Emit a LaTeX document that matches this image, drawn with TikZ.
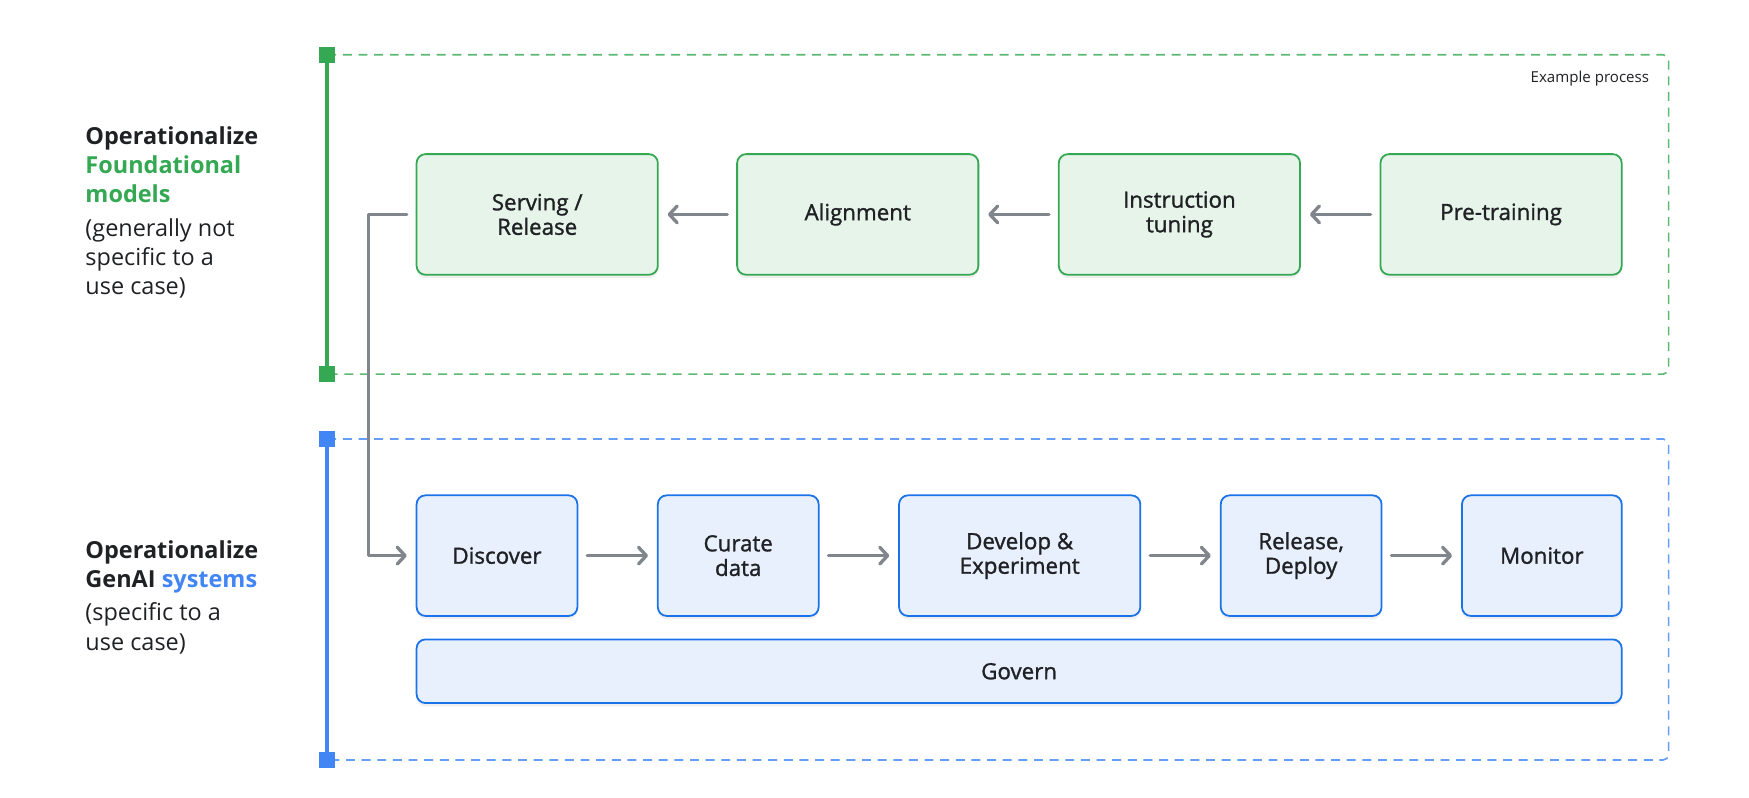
\documentclass[tikz,border=0pt]{standalone}
\usepackage{fontspec}
\setmainfont{Open Sans}
\newfontfamily\stagefont{Open Sans}[FakeBold=1.3]
\usetikzlibrary{arrows.meta,shadows}
\definecolor{ink}{HTML}{202124}
\definecolor{gbar}{HTML}{34A853}
\definecolor{gdash}{HTML}{5BB974}
\definecolor{gfill}{HTML}{E6F4EA}
\definecolor{bbar}{HTML}{4285F4}
\definecolor{bdash}{HTML}{669DF6}
\definecolor{bline}{HTML}{1A73E8}
\definecolor{bfill}{HTML}{E8F0FE}
\definecolor{arrowgray}{HTML}{80868B}
\tikzset{
  frame/.style={line width=1.5pt, dash pattern=on 8pt off 6pt, rounded corners=5pt},
  sidebar/.style={line width=4pt},
  stage/.style={line width=1.6pt, rounded corners=8pt, align=center, text=ink,
    font=\stagefont\fontsize{20}{22}\selectfont, minimum height=108pt,
    drop shadow={shadow xshift=0pt, shadow yshift=-3pt, opacity=0.06, fill=black}},
  gstage/.style={stage, draw=gbar, fill=gfill, minimum width=216pt},
  bstage/.style={stage, draw=bline, fill=bfill, minimum width=144pt},
  flow/.style={draw=arrowgray, line width=3pt, line cap=round, line join=round,
    -{Straight Barb[length=7pt, width=15pt, round]}, shorten <=8pt, shorten >=8pt},
  sidelabel/.style={anchor=base west, align=left, text=ink,
    font=\fontsize{21}{26}\selectfont}
}
\begin{document}
\begin{tikzpicture}[x=1pt,y=-1pt]
\useasboundingbox (0,0) rectangle (1566,714.5);
%foundational models frame
\draw[frame, draw=gdash] (293,49) -- (1494,49) -- (1494,335) -- (293,335);
\draw[sidebar, draw=gbar] (293,49) -- (293,335);
\fill[gbar] (286,42) rectangle (300,56);
\fill[gbar] (286,328) rectangle (300,342);
\node[anchor=base east, text=ink, font=\fontsize{13.5}{16}\selectfont] (example) at (1480,73.5) {Example process};
%genai systems frame
\draw[frame, draw=bdash] (293,393) -- (1494,393) -- (1494,680.5) -- (293,680.5);
\draw[sidebar, draw=bbar] (293,393) -- (293,680.5);
\fill[bbar] (286,386) rectangle (300,400);
\fill[bbar] (286,673.5) rectangle (300,687.5);
%side labels
\node[sidelabel] (fmlabel) at (73,264) {\textbf{Operationalize}\\\textbf{\color{gbar}Foundational}\\\textbf{\color{gbar}models}\\[5pt](generally not\\specific to a\\use case)};
\node[sidelabel] (genlabel) at (73,582) {\textbf{Operationalize}\\\textbf{GenAI \color{bbar}systems}\\[4pt](specific to a\\use case)};
%foundational model stages
\node[gstage] (serve) at (481,192) {Serving /\\Release};
\node[gstage] (align) at (768,192) {Alignment};
\node[gstage] (instr) at (1056,192) {Instruction\\tuning};
\node[gstage] (pretrain) at (1344,192) {Pre-training};
%genai system stages
\node[bstage] (discover) at (445,497.5) {Discover};
\node[bstage] (curate) at (661,497.5) {Curate\\data};
\node[bstage, minimum width=216pt] (develop) at (913,497.5) {Develop \&\\Experiment};
\node[bstage] (release) at (1165,497.5) {Release,\\Deploy};
\node[bstage, minimum width=143pt] (monitor) at (1380.5,497.5) {Monitor};
\node[bstage, minimum width=1079pt, minimum height=57pt] (govern) at (912.5,601) {Govern};
%arrows
\draw[flow] (pretrain) -- (instr);
\draw[flow] (instr) -- (align);
\draw[flow] (align) -- (serve);
\draw[flow] (discover) -- (curate);
\draw[flow] (curate) -- (develop);
\draw[flow] (develop) -- (release);
\draw[flow] (release) -- (monitor);
\draw[flow] (serve.west) -- ++(-42,0) |- (discover.west);
\end{tikzpicture}
\end{document}
